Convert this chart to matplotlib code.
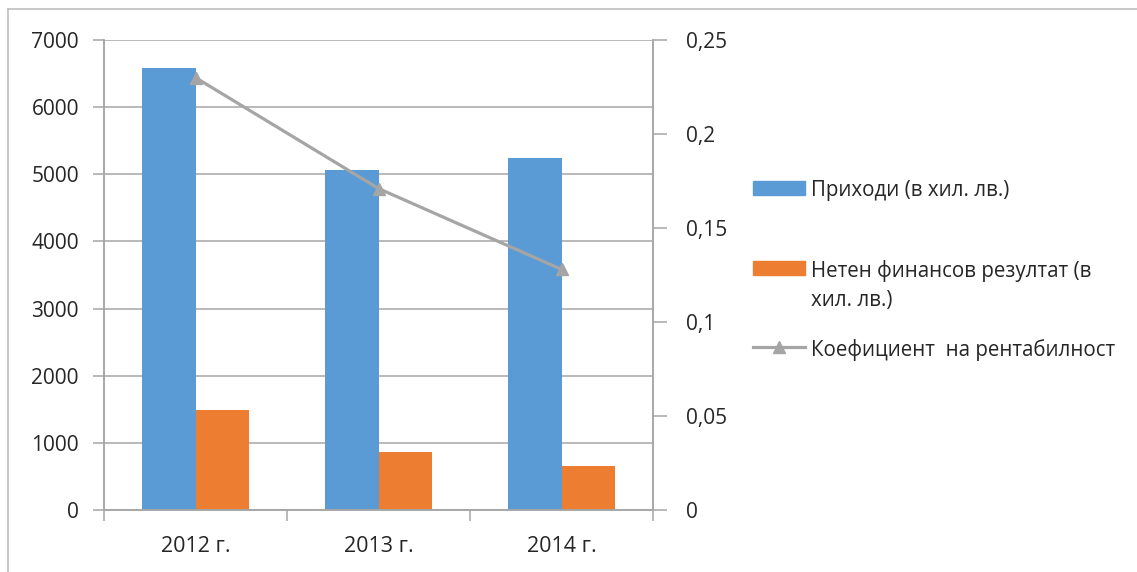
import numpy as np
from matplotlib import pyplot as plt
from matplotlib.ticker import FuncFormatter, FixedLocator
from matplotlib.lines import Line2D
from matplotlib.patches import Rectangle

plt.rcParams['font.family'] = ['Open Sans', 'DejaVu Sans']

# data
years = ['2012 г.', '2013 г.', '2014 г.']
income = [6580, 5065, 5245]          # Приходи (в хил. лв.)
net_result = [1490, 865, 655]        # Нетен финансов резултат (в хил. лв.)
profitability = [0.230, 0.171, 0.128]  # Коефициент на рентабилност

blue = '#5B9BD5'
orange = '#ED7D31'
gray = '#A5A5A5'
axis_gray = '#A6A6A6'
W, H = 1137, 572

fig = plt.figure(figsize=(W/100, H/100), dpi=100)
ax = fig.add_axes([104/W, 1 - 510/H, (653-104)/W, (510-40)/H])
ax2 = ax.twinx()

x = np.arange(len(years))
w = 0.29
ax.bar(x - w/2, income, width=w, color=blue, zorder=2)
ax.bar(x + w/2, net_result, width=w, color=orange, zorder=2)

ax.set_xlim(-0.5, len(years) - 0.5)
ax.set_ylim(0, 7000)
ax.set_yticks(range(0, 7001, 1000))
ax.yaxis.grid(True, color=axis_gray, linewidth=1.1, zorder=0)
ax.set_axisbelow(True)

ax.set_xticks(x)
ax.set_xticklabels(years)
ax.xaxis.set_minor_locator(FixedLocator(np.arange(-0.5, len(years), 1.0)))
ax.tick_params(axis='x', which='major', length=0, pad=19, labelsize=15.5, labelcolor='#262626')
ax.tick_params(axis='x', which='minor', length=8, width=1.1, color=axis_gray)
ax.tick_params(axis='y', length=8, width=1.1, color=axis_gray, pad=10, labelsize=15, labelcolor='#262626')

ax2.plot(x, profitability, color=gray, linewidth=2.3, marker='^', markersize=9, zorder=3)
ax2.set_ylim(0, 0.25)
ax2.set_yticks([0, 0.05, 0.1, 0.15, 0.2, 0.25])
ax2.yaxis.set_major_formatter(FuncFormatter(lambda v, p: ('%g' % round(v, 2)).replace('.', ',')))
ax2.tick_params(axis='y', length=10, width=1.1, color=axis_gray, pad=14, labelsize=15, labelcolor='#262626')

for a in (ax, ax2):
    a.spines['top'].set_visible(False)
    for s in ('left', 'right', 'bottom'):
        a.spines[s].set_color(axis_gray)
        a.spines[s].set_linewidth(1.1)

# legend drawn by hand so the wrapped label keeps its key on the first line
labels = ['Приходи (в хил. лв.)', 'Нетен финансов резултат (в\nхил. лв.)', 'Коефициент  на рентабилност']
rows = [188, 268, 347]
kx0, kx1, tx = 753, 805, 811
fs = 14.8
for i, (lab, yy) in enumerate(zip(labels, rows)):
    yf = 1 - yy/H
    if i < 2:
        fig.add_artist(Rectangle((kx0/W, yf - 7/H), (kx1-kx0)/W, 14/H,
                                 color=[blue, orange][i], transform=fig.transFigure))
    else:
        fig.add_artist(Line2D([kx0/W, kx1/W], [yf, yf], color=gray, linewidth=2.3))
        fig.add_artist(Line2D([(kx0+kx1)/2/W], [yf], color=gray, marker='^', markersize=9))
    fig.text(tx/W, yf + 8/H, lab, fontsize=fs, va='top', ha='left',
             color='#262626', linespacing=1.5)

# outer chart border (top and left edges visible)
fig.add_artist(Line2D([8/W, 1], [1 - 9/H, 1 - 9/H], color='#BFBFBF', linewidth=1.2))
fig.add_artist(Line2D([8/W, 8/W], [0, 1 - 9/H], color='#BFBFBF', linewidth=1.2))

fig.savefig('out.png', dpi=100)
